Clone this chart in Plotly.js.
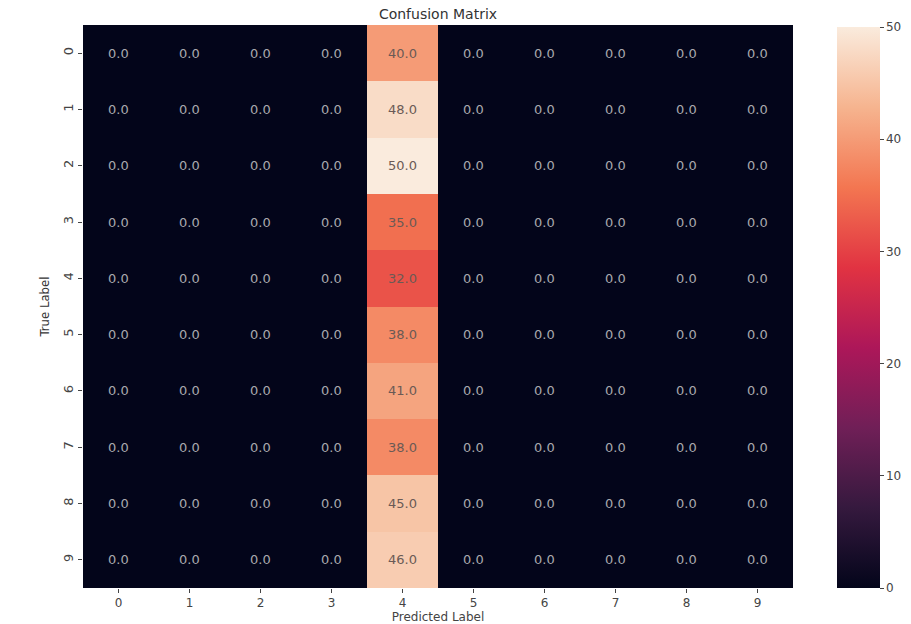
<!DOCTYPE html>
<html>
<head>
<meta charset="utf-8">
<script src="https://cdn.plot.ly/plotly-3.0.1.min.js"></script>
<style>html,body{margin:0;padding:0;background:#fff;}#chart{width:911px;height:624px;}</style>
</head>
<body>
<div id="chart"></div>
<script>
const predictedLabels = ["0","1","2","3","4","5","6","7","8","9"];
const trueLabels = ["0","1","2","3","4","5","6","7","8","9"];
// counts predicted as class 4 for each true label; all other cells are 0
const predictedAs4 = [40, 48, 50, 35, 32, 38, 41, 38, 45, 46];
const colorbarTicks = [0, 10, 20, 30, 40, 50];

const z = trueLabels.map((t, i) => predictedLabels.map((p, j) => (p === "4" ? predictedAs4[i] : 0)));

const rocket = [
  [0.0, "#03051a"], [0.143, "#35193e"], [0.286, "#701f57"], [0.429, "#ad1759"],
  [0.571, "#e13342"], [0.714, "#f37651"], [0.857, "#f6b48f"], [1.0, "#faebdd"]
];

const annotations = [];
trueLabels.forEach((t, i) => {
  predictedLabels.forEach((p, j) => {
    const v = z[i][j];
    annotations.push({
      x: p, y: t, xref: "x", yref: "y", text: v.toFixed(1), showarrow: false,
      font: {family: "DejaVu Sans", size: 13, color: v > 25 ? "#6a5a55" : "#a9a9ae"}
    });
  });
});

const data = [{
  type: "heatmap", x: predictedLabels, y: trueLabels, z: z,
  colorscale: rocket, zmin: 0, zmax: 50, xgap: 0, ygap: 0,
  hoverinfo: "skip",
  colorbar: {
    xref: "container", x: 837/911, xanchor: "left", xpad: 0,
    y: 0, yanchor: "bottom", ypad: 0,
    thickness: 43, lenmode: "pixels", len: 561, outlinewidth: 0,
    tickvals: colorbarTicks, ticks: "outside", ticklen: 4, tickcolor: "#444",
    tickfont: {family: "DejaVu Sans", size: 12, color: "#444"}
  }
}];

const layout = {
  width: 911, height: 624,
  margin: {l: 83, r: 118, t: 25, b: 36},
  paper_bgcolor: "#fff", plot_bgcolor: "#fff",
  title: {text: "Confusion Matrix", x: 0.5, xref: "paper", y: 0.985, yanchor: "top",
          font: {family: "DejaVu Sans", size: 14, color: "#333"}},
  xaxis: {
    type: "category", ticks: "outside", ticklen: 4, tickcolor: "#444", showgrid: false, zeroline: false,
    tickfont: {family: "DejaVu Sans", size: 12, color: "#444"},
    title: {text: "Predicted Label", standoff: 3, font: {family: "DejaVu Sans", size: 12, color: "#444"}}
  },
  yaxis: {
    type: "category", autorange: "reversed", ticks: "outside", ticklen: 4, tickcolor: "#444",
    showgrid: false, zeroline: false, tickangle: -90,
    tickfont: {family: "DejaVu Sans", size: 13, color: "#444"},
    title: {text: "True Label", standoff: 8, font: {family: "DejaVu Sans Condensed", size: 13, color: "#333"}}
  },
  annotations: annotations
};

Plotly.newPlot("chart", data, layout, {displayModeBar: false});
</script>
</body>
</html>
